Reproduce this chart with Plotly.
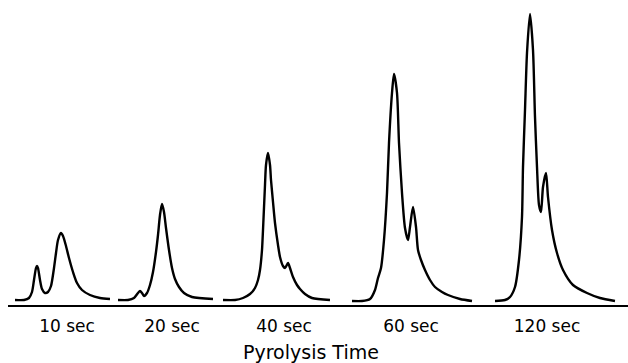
import plotly.graph_objects as go

# Pyrolysis products chromatograms recorded after increasing pyrolysis times.
# Each trace: position along the chart (x) and detector response (y).
times = ["10 sec", "20 sec", "40 sec", "60 sec", "120 sec"]

x_10 = [7, 16, 21, 24, 26, 28, 29, 30, 32, 34, 37, 40, 43, 46, 48, 50, 53, 55, 58, 61, 65, 69, 74, 82, 92, 102]
y_10 = [0, 0, 2, 8, 20, 32, 34, 32, 20, 11, 7, 8, 14, 32, 47, 60, 67, 64, 54, 42, 28, 17, 10, 5, 2, 1]

x_20 = [110, 120, 126, 130, 132, 134, 136, 139, 142, 145, 148, 150, 152, 154, 156, 158, 161, 164, 167, 171, 176, 184, 205]
y_20 = [0, 0, 2, 7, 9, 7, 4, 7, 15, 28, 48, 65, 85, 96, 88, 72, 50, 32, 21, 13, 7, 3, 1]

x_40 = [215, 227, 235, 242, 247, 250, 252, 254, 255, 257, 258, 260, 262, 263, 265, 267, 270, 272, 275, 277, 280, 282, 285, 289, 292, 297, 304, 322]
y_40 = [0, 0, 2, 6, 12, 20, 30, 50, 70, 115, 135, 147, 135, 120, 98, 77, 55, 43, 34, 32, 37, 32, 23, 15, 11, 6, 2, 0]

x_60 = [344, 354, 362, 367, 370, 373, 376, 379, 381, 384, 386, 389, 391, 394, 397, 400, 402, 405, 408, 410, 413, 417, 422, 427, 434, 440, 452, 464]
y_60 = [-1, -1, 1, 10, 22, 32, 60, 107, 157, 207, 226, 207, 157, 107, 72, 60, 73, 93, 73, 50, 40, 30, 20, 13, 8, 5, 1, -1]

x_120 = [487, 497, 502, 507, 511, 514, 515, 517, 519, 522, 525, 527, 529, 531, 533, 535, 538, 540, 544, 549, 555, 565, 579, 592, 607]
y_120 = [-1, 0, 3, 13, 40, 83, 133, 190, 247, 286, 250, 183, 133, 95, 88, 113, 127, 103, 70, 47, 30, 15, 7, 2, -1]

series = [(x_10, y_10), (x_20, y_20), (x_40, y_40), (x_60, y_60), (x_120, y_120)]

# Centres of the time labels under each trace
label_x = [59, 164, 276, 403, 539]

FONT = "DejaVu Sans"

fig = go.Figure()
for name, (xs, ys) in zip(times, series):
    fig.add_trace(go.Scatter(
        x=xs, y=ys, name=name, mode="lines",
        line=dict(color="black", width=2.4, shape="spline", smoothing=0.7),
        hoverinfo="skip", showlegend=False,
    ))

fig.update_layout(
    width=628, height=363,
    margin=dict(l=8, r=0, t=0, b=58),
    paper_bgcolor="white", plot_bgcolor="white",
    xaxis=dict(
        range=[0, 620], showgrid=False, zeroline=False,
        showline=True, linecolor="black", linewidth=1.5,
        tickvals=label_x, ticktext=times,
        ticks="outside", ticklen=5, tickcolor="rgba(0,0,0,0)",
        tickfont=dict(family=FONT, size=17, color="black"),
        fixedrange=True,
    ),
    yaxis=dict(range=[-5, 300], visible=False, fixedrange=True),
    annotations=[dict(
        text="Pyrolysis Time", x=303, xref="x", y=-0.154, yref="paper",
        xanchor="center", yanchor="middle", showarrow=False,
        font=dict(family=FONT, size=19, color="black"),
    )],
)

fig.write_html("out.html")
